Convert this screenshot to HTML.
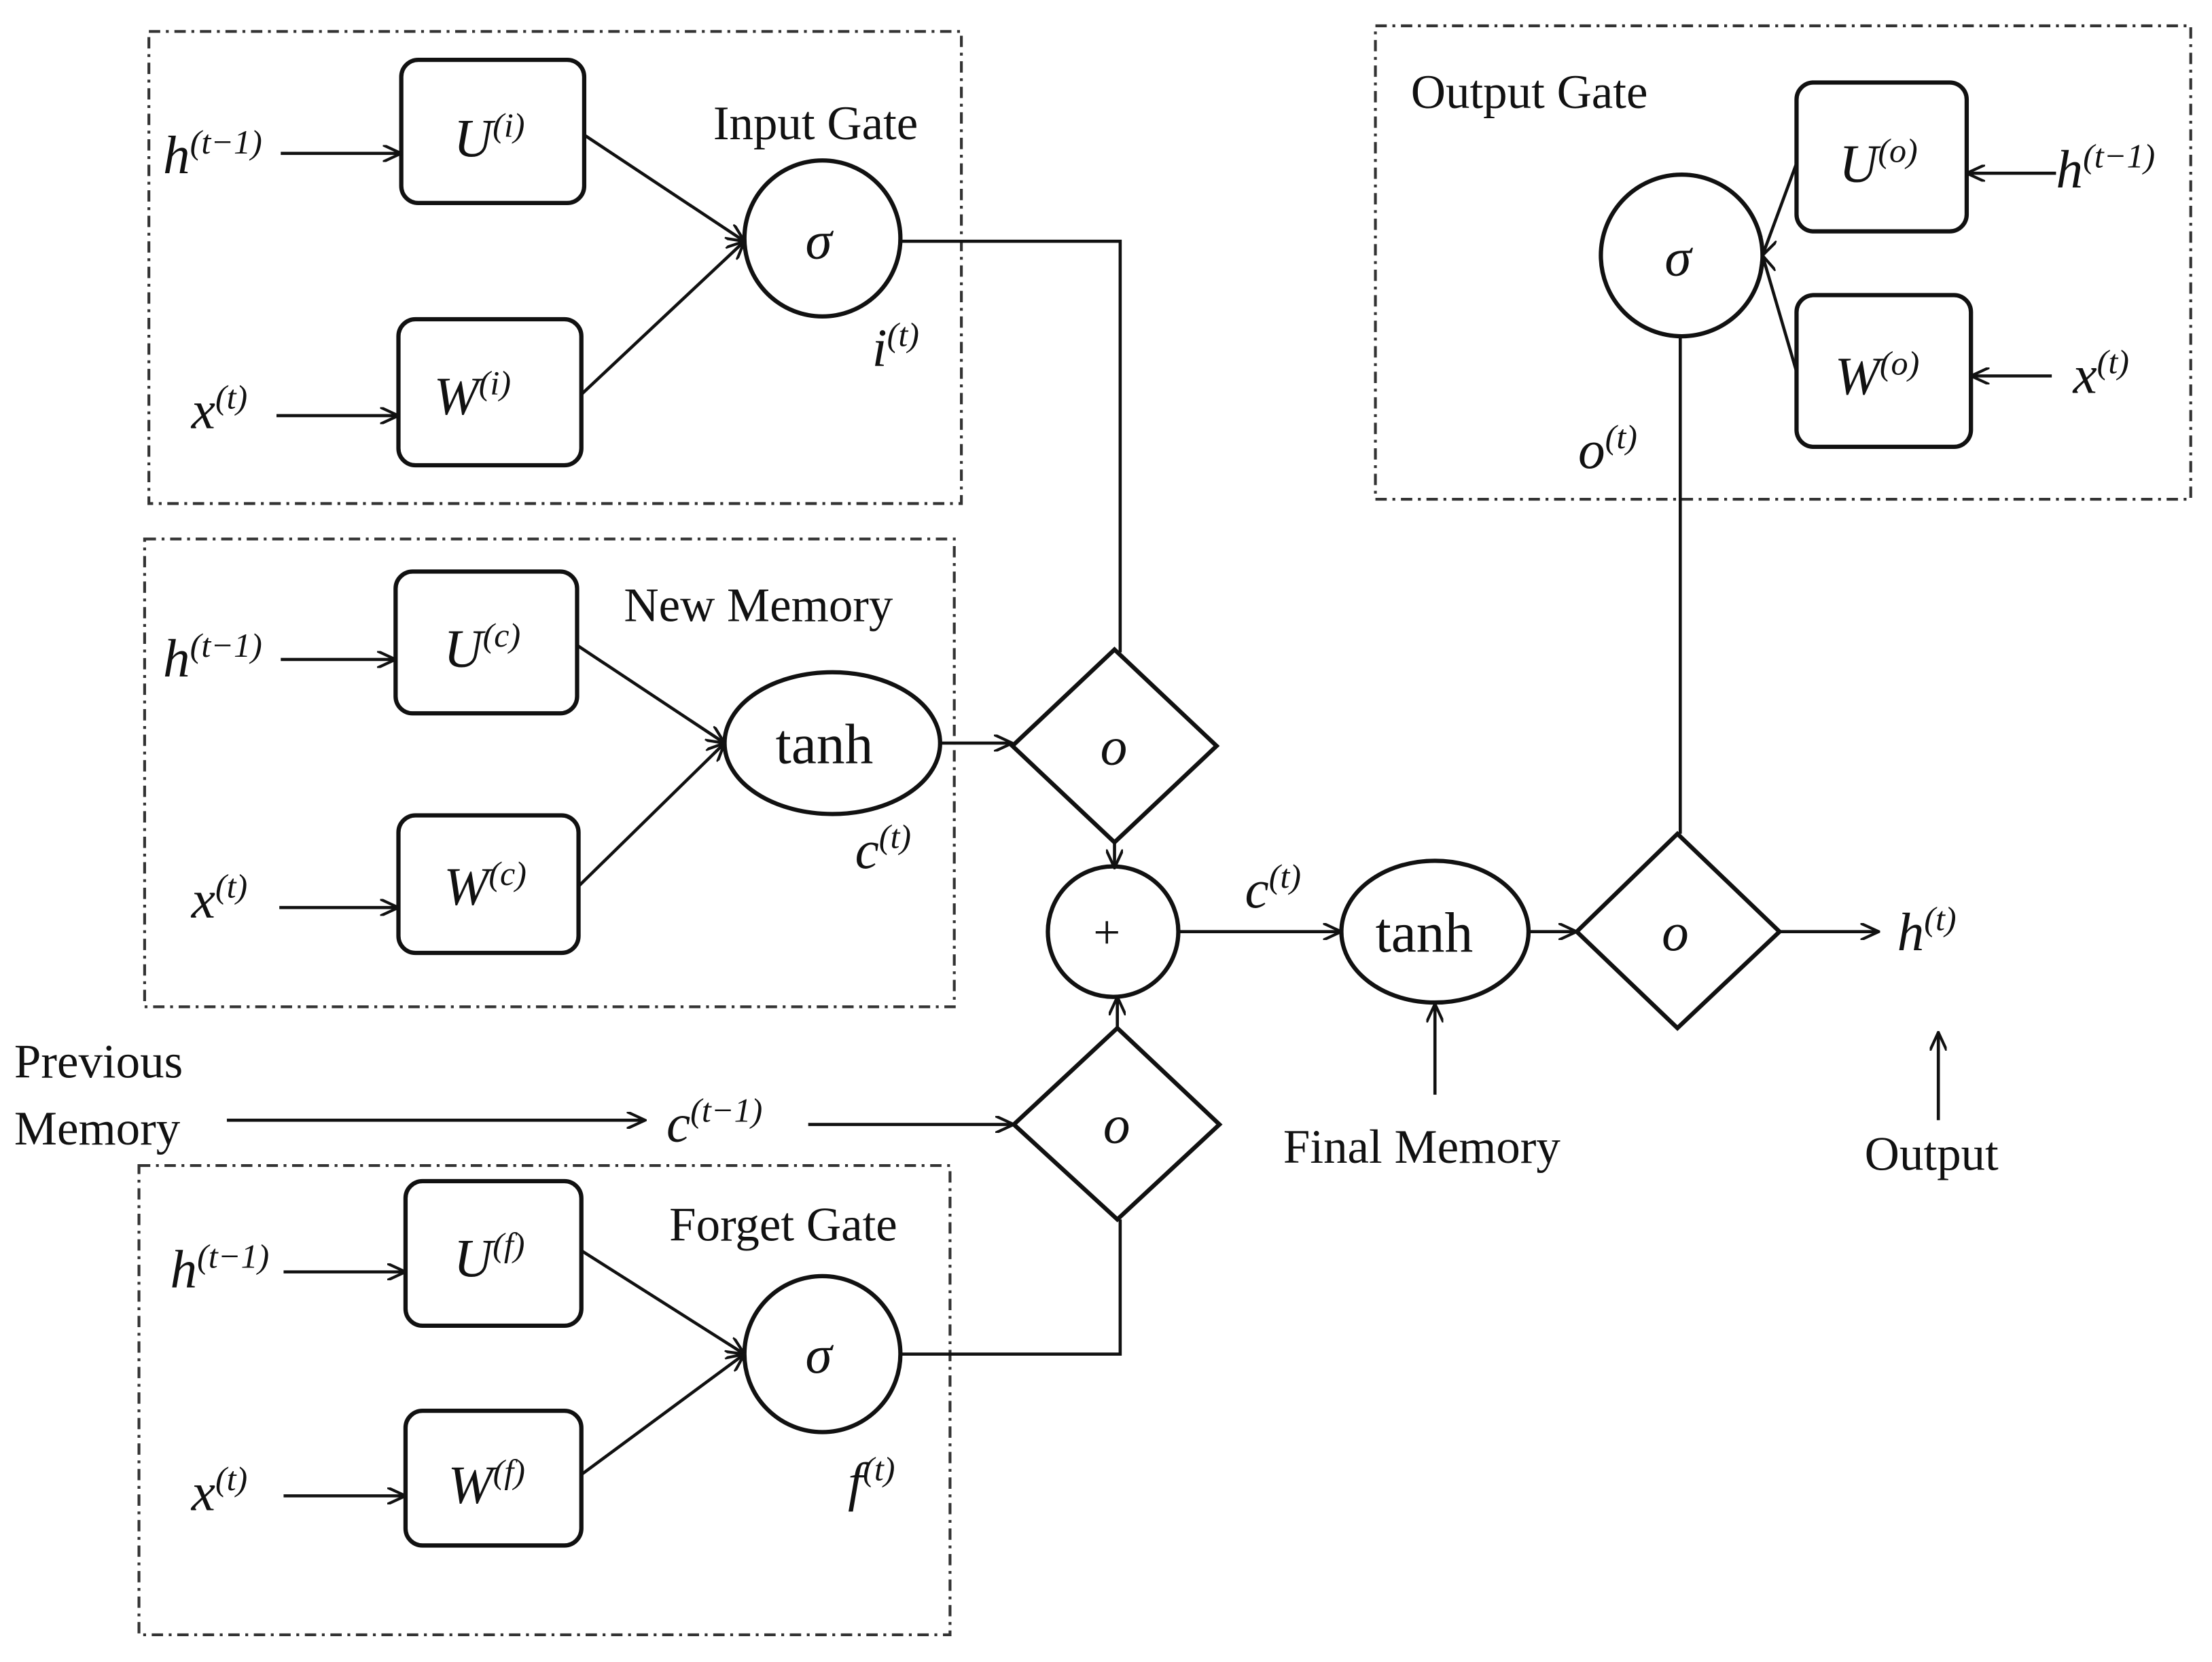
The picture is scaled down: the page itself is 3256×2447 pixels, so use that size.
<!DOCTYPE html>
<html><head><meta charset="utf-8"><style>
html,body{margin:0;padding:0;background:#fff;}
svg{display:block;}
text{font-family:"Liberation Serif",serif;fill:#111;}
.v{font-style:italic;}
</style></head><body>
<svg width="3256" height="2447" viewBox="0 0 1560 1172" xmlns="http://www.w3.org/2000/svg">
<defs>
<marker id="a" markerWidth="14" markerHeight="12" refX="13" refY="6" orient="auto" markerUnits="userSpaceOnUse">
<path d="M0,0 L13,6 L0,12" fill="none" stroke="#111" stroke-width="2"/>
</marker>
</defs>
<g fill="none" stroke="#333" stroke-width="2" stroke-dasharray="8,4,2,4">
<rect x="105" y="22" width="573" height="333"/>
<rect x="102" y="380" width="571" height="330"/>
<rect x="98" y="822" width="572" height="331"/>
<rect x="970" y="18" width="575" height="334"/>
</g>
<g fill="none" stroke="#111" stroke-width="3">
<rect x="283" y="42" width="129" height="101" rx="12"/>
<rect x="281" y="225" width="129" height="103" rx="12"/>
<rect x="279" y="403" width="128" height="100" rx="12"/>
<rect x="281" y="575" width="127" height="97" rx="12"/>
<rect x="286" y="833" width="124" height="102" rx="12"/>
<rect x="286" y="995" width="124" height="95" rx="12"/>
<rect x="1267" y="58" width="120" height="105" rx="12"/>
<rect x="1267" y="208" width="123" height="107" rx="12"/>
<circle cx="580" cy="168" r="55"/>
<ellipse cx="587" cy="524" rx="76" ry="50"/>
<circle cx="580" cy="955" r="55"/>
<circle cx="785" cy="657" r="46"/>
<ellipse cx="1012" cy="657" rx="66" ry="50"/>
<circle cx="1186" cy="180" r="57"/>
<path d="M786,458 L858,526 L786,594 L714,526 Z"/>
<path d="M788,725 L860,793 L788,860 L715,793 Z"/>
<path d="M1183,588 L1255,657 L1183,725 L1112,657 Z"/>
</g>
<g fill="none" stroke="#111" stroke-width="2.2" marker-end="url(#a)">
<line x1="198" y1="108" x2="283" y2="108"/>
<line x1="195" y1="293" x2="281" y2="293"/>
<line x1="412" y1="95" x2="525" y2="170"/>
<line x1="410" y1="278" x2="525" y2="170"/>
<line x1="198" y1="465" x2="279" y2="465"/>
<line x1="197" y1="640" x2="281" y2="640"/>
<line x1="407" y1="455" x2="511" y2="524"/>
<line x1="408" y1="625" x2="511" y2="524"/>
<line x1="664" y1="524" x2="714" y2="524"/>
<line x1="786" y1="594" x2="786" y2="612"/>
<line x1="788" y1="725" x2="788" y2="703"/>
<line x1="160" y1="790" x2="455" y2="790"/>
<line x1="570" y1="793" x2="715" y2="793"/>
<line x1="200" y1="897" x2="286" y2="897"/>
<line x1="200" y1="1055" x2="286" y2="1055"/>
<line x1="410" y1="882" x2="525" y2="955"/>
<line x1="410" y1="1040" x2="525" y2="955"/>
<line x1="831" y1="657" x2="946" y2="657"/>
<line x1="1078" y1="657" x2="1112" y2="657"/>
<line x1="1255" y1="657" x2="1325" y2="657"/>
<line x1="1012" y1="772" x2="1012" y2="708"/>
<line x1="1367" y1="790" x2="1367" y2="728"/>
<line x1="1267" y1="115" x2="1243" y2="180"/>
<line x1="1267" y1="262" x2="1243" y2="180"/>
<line x1="1450" y1="122" x2="1387" y2="122"/>
<line x1="1447" y1="265" x2="1390" y2="265"/>
</g>
<g fill="none" stroke="#111" stroke-width="2.2">
<polyline points="636,170 790,170 790,460"/>
<polyline points="636,955 790,955 790,860"/>
<line x1="1185" y1="588" x2="1185" y2="237"/>
</g>
<g font-size="34">
<text x="503" y="98">Input Gate</text>
<text x="440" y="438">New Memory</text>
<text x="472" y="875">Forget Gate</text>
<text x="995" y="76">Output Gate</text>
<text x="10" y="760">Previous</text>
<text x="10" y="807">Memory</text>
<text x="905" y="820">Final Memory</text>
<text x="1315" y="825">Output</text>
<text x="547" y="538" font-size="40">tanh</text>
<text x="970" y="671" font-size="40">tanh</text>
<text x="771" y="669" font-size="34">+</text>
</g>
<g font-size="38" class="v">
<text x="568" y="182" class="v">σ</text>
<text x="568" y="968" class="v">σ</text>
<text x="1174" y="194" class="v">σ</text>
<text x="776" y="539" class="v">o</text>
<text x="778" y="806" class="v">o</text>
<text x="1172" y="670" class="v">o</text>
</g>
<g font-size="38" class="v">
<text x="115" y="122">h<tspan font-size="24" dy="-14">(t−1)</tspan></text>
<text x="115" y="477">h<tspan font-size="24" dy="-14">(t−1)</tspan></text>
<text x="120" y="908">h<tspan font-size="24" dy="-14">(t−1)</tspan></text>
<text x="1450" y="132">h<tspan font-size="24" dy="-14">(t−1)</tspan></text>
<text x="135" y="302">x<tspan font-size="24" dy="-14">(t)</tspan></text>
<text x="135" y="647">x<tspan font-size="24" dy="-14">(t)</tspan></text>
<text x="135" y="1065">x<tspan font-size="24" dy="-14">(t)</tspan></text>
<text x="1462" y="277">x<tspan font-size="24" dy="-14">(t)</tspan></text>
<text x="320" y="110">U<tspan font-size="24" dy="-14">(i)</tspan></text>
<text x="306" y="292">W<tspan font-size="24" dy="-14">(i)</tspan></text>
<text x="313" y="470">U<tspan font-size="24" dy="-14">(c)</tspan></text>
<text x="313" y="638">W<tspan font-size="24" dy="-14">(c)</tspan></text>
<text x="320" y="900">U<tspan font-size="24" dy="-14">(f)</tspan></text>
<text x="316" y="1060">W<tspan font-size="24" dy="-14">(f)</tspan></text>
<text x="1297" y="128">U<tspan font-size="24" dy="-14">(o)</tspan></text>
<text x="1294" y="278">W<tspan font-size="24" dy="-14">(o)</tspan></text>
<text x="615" y="258">i<tspan font-size="24" dy="-14">(t)</tspan></text>
<text x="603" y="612">c<tspan font-size="24" dy="-14">(t)</tspan></text>
<text x="598" y="1058">f<tspan font-size="24" dy="-14">(t)</tspan></text>
<text x="1113" y="330">o<tspan font-size="24" dy="-14">(t)</tspan></text>
<text x="878" y="640">c<tspan font-size="24" dy="-14">(t)</tspan></text>
<text x="470" y="805">c<tspan font-size="24" dy="-14">(t−1)</tspan></text>
<text x="1338" y="670">h<tspan font-size="24" dy="-14">(t)</tspan></text>
</g>
</svg>
</body></html>
